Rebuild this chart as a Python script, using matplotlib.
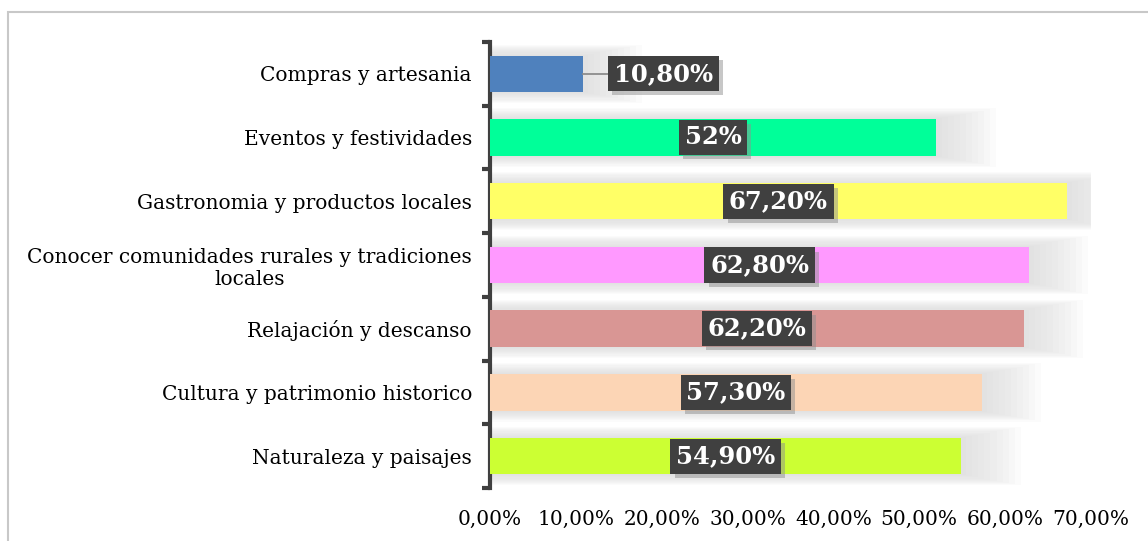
import matplotlib.pyplot as plt
import matplotlib.patheffects as pe
from matplotlib.patches import Rectangle

categorias = [
    "Naturaleza y paisajes",
    "Cultura y patrimonio historico",
    "Relajación y descanso",
    "Conocer comunidades rurales y tradiciones\nlocales",
    "Gastronomia y productos locales",
    "Eventos y festividades",
    "Compras y artesania",
]
valores = [54.9, 57.3, 62.2, 62.8, 67.2, 52.0, 10.8]
etiquetas = ["54,90%", "57,30%", "62,20%", "62,80%", "67,20%", "52%", "10,80%"]
colores = ["#CCFF33", "#FCD5B5", "#D99694", "#FF99FF", "#FFFF66", "#00FF99", "#4F81BD"]
ticks_x = [0, 10, 20, 30, 40, 50, 60, 70]
ticks_x_txt = ["0,00%", "10,00%", "20,00%", "30,00%", "40,00%", "50,00%", "60,00%", "70,00%"]

plt.rcParams['font.family'] = ['DejaVu Serif']

fig = plt.figure(figsize=(11.48, 5.41), dpi=100)
ax = fig.add_axes([0.4268, 0.098, 0.5235, 0.8246])

# marco gris de la figura
fig.patches.append(Rectangle((8 / 1148, -0.2), 1.5, 1 - 12 / 541 + 0.2,
                             transform=fig.transFigure, fill=False,
                             edgecolor="#C8C8C8", linewidth=1.5, zorder=0))

y = list(range(len(categorias)))

# sombra difusa detrás de cada barra
for k in range(10):
    ax.barh(y, [v + 0.6 + k * 0.7 for v in valores], height=0.60 + k * 0.035,
            color="#D8D8D8", alpha=0.10, linewidth=0, zorder=1)

ax.barh(y, valores, height=0.57, color=colores, linewidth=0, zorder=3)

sombra = [pe.withSimplePatchShadow(offset=(3, -3), shadow_rgbFace="#909090", alpha=0.5)]
for i, (v, t) in enumerate(zip(valores, etiquetas)):
    if v < 20:
        x_txt = 20.2
        ax.plot([v, x_txt - 6], [i, i], color="#8C8C8C", linewidth=1.3, zorder=4)
    else:
        x_txt = v / 2
    txt = ax.text(x_txt, i, t, ha="center", va="center", color="white",
                  fontsize=17.5, fontweight="bold", zorder=6,
                  bbox=dict(boxstyle="square,pad=0.23", facecolor="#404040",
                            edgecolor="none"))
    txt.get_bbox_patch().set_path_effects(sombra)

ax.set_xlim(0, 70)
ax.set_ylim(-0.5, len(categorias) - 0.5)
ax.set_yticks(y)
ax.set_yticklabels(categorias, fontsize=14.5, multialignment="center")
ax.set_yticks([i - 0.5 for i in range(len(categorias) + 1)], minor=True)
ax.tick_params(axis="y", which="major", length=0, pad=13)
ax.tick_params(axis="y", which="minor", length=6, width=3, color="#404040", direction="out")
ax.set_xticks(ticks_x)
ax.set_xticklabels(ticks_x_txt, fontsize=14.5)
ax.tick_params(axis="x", length=0, pad=16)

for lado in ["top", "right", "bottom"]:
    ax.spines[lado].set_visible(False)
ax.spines["left"].set_color("#404040")
ax.spines["left"].set_linewidth(3)
ax.patch.set_alpha(0)

fig.savefig("out.png", dpi=100)
